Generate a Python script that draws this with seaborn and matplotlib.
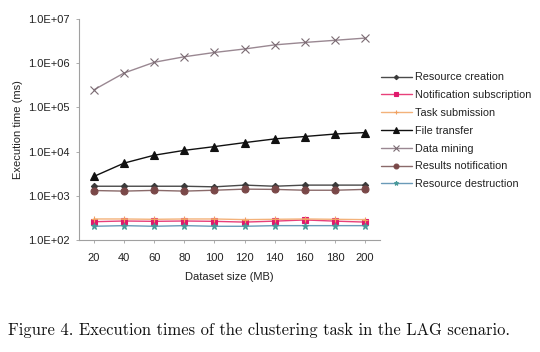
import matplotlib
matplotlib.use("Agg")
import matplotlib.pyplot as plt
import seaborn as sns
import pandas as pd
import numpy as np

sizes = [20, 40, 60, 80, 100, 120, 140, 160, 180, 200]
resource_creation = [1650, 1650, 1650, 1650, 1600, 1750, 1650, 1750, 1750, 1750]
notification_subscription = [260, 270, 265, 270, 265, 255, 268, 285, 268, 255]
task_submission = [300, 300, 295, 300, 300, 290, 295, 300, 295, 290]
file_transfer = [2750, 5500, 8300, 10700, 13000, 16000, 19400, 22000, 25000, 27000]
data_mining = [250000, 600000, 1050000, 1400000, 1750000, 2100000, 2600000, 2950000, 3300000, 3700000]
results_notification = [1320, 1280, 1330, 1280, 1340, 1420, 1400, 1340, 1340, 1400]
resource_destruction = [205, 212, 205, 212, 205, 205, 212, 212, 212, 212]

series = {
    "Resource creation": resource_creation,
    "Notification subscription": notification_subscription,
    "Task submission": task_submission,
    "File transfer": file_transfer,
    "Data mining": data_mining,
    "Results notification": results_notification,
    "Resource destruction": resource_destruction,
}
styles = {
    "Resource creation": dict(color="#4a4a4a", mfc="#3a3a3a", marker="D", ms=3.2),
    "Notification subscription": dict(color="#e8407a", mfc="#e0186c", marker="s", ms=4.8),
    "Task submission": dict(color="#f3b27a", mfc="#f0a060", marker="+", ms=4.5),
    "File transfer": dict(color="#111111", mfc="#111111", marker="^", ms=5.5),
    "Data mining": dict(color="#9a8892", mfc="#7a6a72", marker="x", ms=5.5),
    "Results notification": dict(color="#8a6a6a", mfc="#7a4848", marker="o", ms=5),
    "Resource destruction": dict(color="#6a9ab8", mfc="#4a9a9a", marker="*", ms=4.5),
}

rows = []
for name, vals in series.items():
    for s, v in zip(sizes, vals):
        rows.append({"size": str(s), "time": v, "series": name})
df = pd.DataFrame(rows)

sns.set_style("white")
plt.rcParams["font.family"] = ["Liberation Sans", "DejaVu Sans"]

fig = plt.figure(figsize=(5.4, 3.52), dpi=100)
ax = fig.add_axes([0.146, 0.318, 0.558, 0.628])

for name in series:
    st = styles[name]
    sub = df[df["series"] == name]
    sns.lineplot(data=sub, x="size", y="time", ax=ax, color=st["color"], lw=1.0,
                 marker=st["marker"], markersize=st["ms"], markerfacecolor=st["mfc"],
                 markeredgecolor=st["mfc"], markeredgewidth=0.8, label=name,
                 sort=False)

ax.set_yscale("log")
ax.set_ylim(1e2, 1e7)
ax.set_xlim(-0.5, 9.5)
ax.set_yticks([1e2, 1e3, 1e4, 1e5, 1e6, 1e7])
ax.set_yticklabels(["1.0E+02", "1.0E+03", "1.0E+04", "1.0E+05", "1.0E+06", "1.0E+07"])
ax.minorticks_off()
ax.tick_params(axis="both", labelsize=8, colors="#222222", length=2.5, width=0.6,
               direction="out", bottom=True, left=True)
ax.tick_params(axis="y", pad=4)
ax.tick_params(axis="x", pad=7)
for sp in ["top", "right"]:
    ax.spines[sp].set_visible(False)
for sp in ["left", "bottom"]:
    ax.spines[sp].set_color("#a0a0a0")
    ax.spines[sp].set_linewidth(0.8)
ax.tick_params(axis="both", color="#a0a0a0")
ax.set_xlabel("Dataset size (MB)", fontsize=8, color="#222222", labelpad=6)
ax.set_ylabel("Execution time (ms)", fontsize=8, color="#222222", labelpad=4)
ax.grid(False)

leg = ax.legend(loc="upper left", bbox_to_anchor=(1.0, 0.763), frameon=False,
                fontsize=7.8, handlelength=2.8, handletextpad=0.35,
                labelspacing=0.72, borderaxespad=0.0, borderpad=0.1,
                markerscale=0.7)
for t in leg.get_texts():
    t.set_color("#222222")

fig.text(0.015, 0.048, "Figure 4. Execution times of the clustering task in the LAG scenario.",
         fontsize=11.9, family="cmr10", color="#111111", ha="left", va="baseline")

fig.savefig("out.png", dpi=100)
